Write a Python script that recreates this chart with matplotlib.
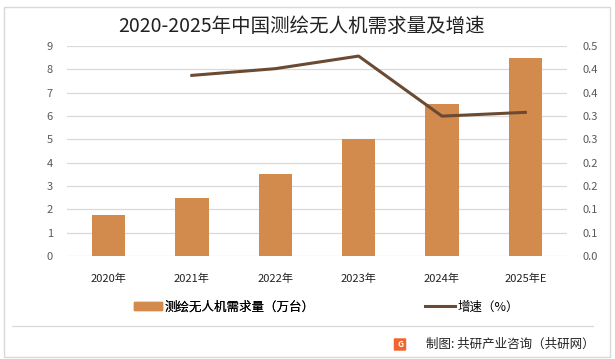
import matplotlib
matplotlib.use("Agg")
import matplotlib.pyplot as plt
from matplotlib.patches import Rectangle, FancyBboxPatch, Patch
from matplotlib.lines import Line2D
from matplotlib.ticker import FixedLocator, FixedFormatter

plt.rcParams['font.family'] = ['Noto Sans CJK SC', 'DejaVu Sans']

categories = ["2020年", "2021年", "2022年", "2023年", "2024年", "2025年E"]
demand = [1.75, 2.5, 3.5, 5.0, 6.5, 8.5]
growth = [None, 0.43, 0.446, 0.476, 0.333, 0.342]
left_ticks = list(range(0, 10))
right_tick_labels = ["0.0", "0.1", "0.1", "0.2", "0.2", "0.3", "0.3", "0.4", "0.4", "0.5"]

title = "2020-2025年中国测绘无人机需求量及增速"
bar_label = "测绘无人机需求量（万台）"
line_label = "增速（%）"
source = "制图: 共研产业咨询（共研网）"

bar_color = "#D38B4D"
line_color = "#6B4A33"
grid_color = "#D9D9D9"
tick_color = "#595959"

fig = plt.figure(figsize=(6.15, 3.59), dpi=100)
ax = fig.add_axes([0.1086, 0.2869, 0.8134, 0.585])
ax2 = ax.twinx()

x = list(range(len(categories)))
ax.bar(x, demand, width=0.4, color=bar_color, zorder=2)
ax.set_xlim(-0.5, len(categories) - 0.5)
ax.set_ylim(0, 9)
ax.set_yticks(left_ticks)
ax.grid(axis='y', color=grid_color, linewidth=0.9, zorder=0)
ax.set_axisbelow(True)
ax.set_xticks(x)
ax.set_xticklabels(categories, fontsize=8, color="#222222")

gx = [i for i, g in enumerate(growth) if g is not None]
gy = [g for g in growth if g is not None]
ax2.plot(gx, gy, color=line_color, linewidth=2.2, zorder=3)
ax2.set_ylim(0, 0.5)
rt = [0.5 * i / 9 for i in range(10)]
ax2.yaxis.set_major_locator(FixedLocator(rt))
ax2.yaxis.set_major_formatter(FixedFormatter(right_tick_labels))

for a in (ax, ax2):
    for s in a.spines.values():
        s.set_visible(False)
    a.tick_params(axis='both', length=0, labelsize=8, labelcolor=tick_color)
ax.tick_params(axis='x', labelcolor="#222222", pad=13)
ax.tick_params(axis='y', pad=10)
ax2.tick_params(axis='y', pad=11)

fig.text(0.49, 0.925, title, ha='center', va='center', fontsize=14, color="#222222")

leg1 = fig.legend(handles=[Patch(color=bar_color)], labels=[bar_label],
                  loc='center left', bbox_to_anchor=(0.2, 0.145), frameon=False,
                  fontsize=9, handlelength=2.2, handleheight=0.6, handletextpad=0.2)
fig.legend(handles=[Line2D([0], [0], color=line_color, linewidth=2.2)], labels=[line_label],
           loc='center left', bbox_to_anchor=(0.672, 0.145), frameon=False,
           fontsize=9, handlelength=2.4, handletextpad=0.2)
fig.add_artist(leg1)

# separator line
fig.add_artist(Line2D([0.02, 0.965], [1 - 326 / 359, 1 - 326 / 359], color="#D9D9D9", linewidth=0.9))
# outer border
fig.add_artist(Rectangle((4 / 615, 1 - 357 / 359), 606 / 615, 350 / 359, fill=False,
                         edgecolor="#D9D9D9", linewidth=1.0))
# logo
fig.add_artist(FancyBboxPatch((395 / 615, 1 - 350 / 359), 10 / 615, 11 / 359,
                              boxstyle="round,pad=0.002", facecolor="#F0642D", edgecolor="none"))
fig.text(400 / 615, 1 - 344.5 / 359, "G", ha='center', va='center', fontsize=6,
         color="white", fontweight='bold')
fig.text(0.967, 1 - 344 / 359, source, ha='right', va='center', fontsize=9, color="#222222")

fig.savefig("out.png", dpi=100)
